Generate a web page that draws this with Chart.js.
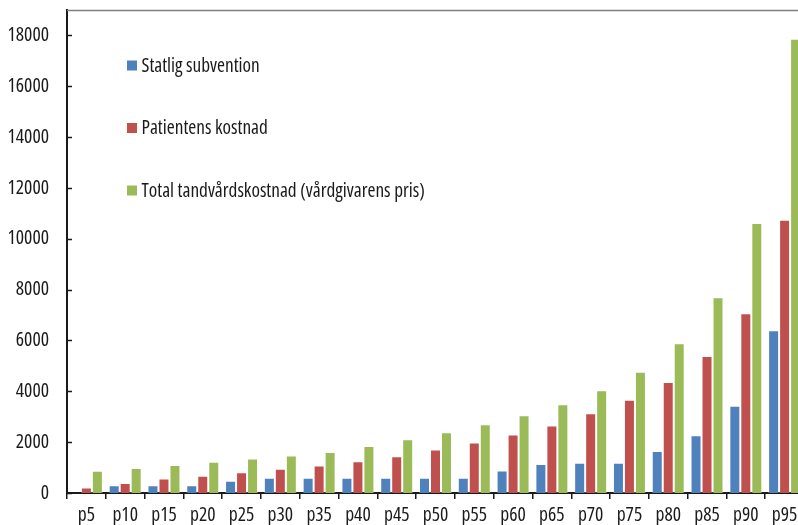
<!DOCTYPE html>
<html>
<head>
<meta charset="utf-8">
<script src="https://cdn.jsdelivr.net/npm/chart.js@4.4.1/dist/chart.umd.min.js"></script>
<style>
  html, body { margin: 0; padding: 0; background: #ffffff; }
  #wrap { width: 798px; height: 525px; overflow: hidden; position: relative; }
  #c { display: block; }
</style>
</head>
<body>
<div id="wrap"><canvas id="c" width="804" height="525" style="width:804px;height:525px"></canvas></div>
<script>
// Percentiles of dental care cost per patient (SEK)
const categories = ['p5','p10','p15','p20','p25','p30','p35','p40','p45','p50','p55','p60','p65','p70','p75','p80','p85','p90','p95'];
const statligSubvention = [0, 300, 300, 300, 480, 600, 600, 600, 600, 600, 600, 890, 1140, 1190, 1190, 1650, 2270, 3430, 6400];
const patientensKostnad = [220, 390, 575, 680, 820, 950, 1085, 1250, 1450, 1715, 1990, 2305, 2660, 3135, 3670, 4365, 5390, 7070, 10745];
const totalKostnad = [875, 980, 1100, 1230, 1360, 1480, 1610, 1845, 2110, 2385, 2700, 3055, 3490, 4040, 4770, 5890, 7700, 10625, 17870];
const seriesNames = ['Statlig subvention', 'Patientens kostnad', 'Total tandvårdskostnad (vårdgivarens pris)'];
const yTickValues = [0, 2000, 4000, 6000, 8000, 10000, 12000, 14000, 16000, 18000];

const FONT = '"Open Sans", "Noto Sans", sans-serif';
const STRETCH = 'condensed';
const INK = '#1a1a1a';

// Legend stacked inside the plot, one entry per row
const insideLegend = {
  id: 'insideLegend',
  afterDatasetsDraw(chart) {
    const { ctx, chartArea } = chart;
    const x0 = chartArea.left + 60;
    const y0 = chartArea.top + 55.5;
    const rowGap = 62.5;
    ctx.save();
    ctx.font = STRETCH + ' 19.3px ' + FONT;
    ctx.textBaseline = 'middle';
    ctx.textAlign = 'left';
    chart.data.datasets.forEach((ds, i) => {
      const y = y0 + i * rowGap;
      ctx.fillStyle = ds.backgroundColor;
      ctx.fillRect(x0, y - 5, 10, 10);
      ctx.fillStyle = INK;
      ctx.fillText(ds.label, x0 + 14.5, y + 1);
    });
    ctx.restore();
  }
};

// Short inward tick marks on the value axis and the grey frame line on top
const frameAndTicks = {
  id: 'frameAndTicks',
  afterDraw(chart) {
    const { ctx, chartArea } = chart;
    const y = chart.scales.y;
    ctx.save();
    ctx.strokeStyle = '#808080';
    ctx.lineWidth = 1.5;
    ctx.beginPath();
    ctx.moveTo(chartArea.left, chartArea.top + 0.5);
    ctx.lineTo(chartArea.right, chartArea.top + 0.5);
    ctx.stroke();
    ctx.strokeStyle = INK;
    ctx.lineWidth = 1.5;
    y.ticks.forEach(t => {
      const py = Math.round(y.getPixelForValue(t.value)) + 0.5;
      ctx.beginPath();
      ctx.moveTo(chartArea.left, py);
      ctx.lineTo(chartArea.left + 5, py);
      ctx.stroke();
    });
    ctx.restore();
  }
};

const tickFont = { family: FONT, size: 19.5, weight: STRETCH };

new Chart(document.getElementById('c'), {
  type: 'bar',
  data: {
    labels: categories,
    datasets: [
      { label: seriesNames[0], data: statligSubvention, backgroundColor: '#4F81BD', borderColor: 'rgba(255,255,255,0.25)', borderWidth: 1 },
      { label: seriesNames[1], data: patientensKostnad, backgroundColor: '#C0504D', borderColor: 'rgba(255,255,255,0.25)', borderWidth: 1 },
      { label: seriesNames[2], data: totalKostnad, backgroundColor: '#9BBB59', borderColor: 'rgba(255,255,255,0.25)', borderWidth: 1 }
    ]
  },
  options: {
    responsive: false,
    animation: false,
    devicePixelRatio: 1,
    layout: { padding: { top: 10, right: 0, bottom: 0, left: 0 } },
    datasets: { bar: { categoryPercentage: 0.85, barPercentage: 1.0 } },
    plugins: {
      legend: { display: false },
      tooltip: { enabled: false }
    },
    scales: {
      x: {
        grid: { display: true, drawOnChartArea: false, drawTicks: true, tickLength: 6, color: INK, lineWidth: 1.5, offset: true },
        border: { display: true, color: INK, width: 2 },
        ticks: { color: INK, font: tickFont, padding: 4.5, maxRotation: 0, autoSkip: false },
        afterFit(scale) { scale.height = 32; scale.paddingLeft = 0; scale.paddingRight = 0; }
      },
      y: {
        min: 0,
        max: 19000,
        grid: { display: false, drawTicks: false },
        border: { display: true, color: INK, width: 2 },
        ticks: { color: INK, font: tickFont, padding: 18, stepSize: 2000, callback: v => String(v) },
        afterBuildTicks(scale) { scale.ticks = yTickValues.map(v => ({ value: v })); },
        afterFit(scale) { scale.width = 67; scale.paddingTop = 0; scale.paddingBottom = 0; }
      }
    }
  },
  plugins: [insideLegend, frameAndTicks]
});
</script>
</body>
</html>
